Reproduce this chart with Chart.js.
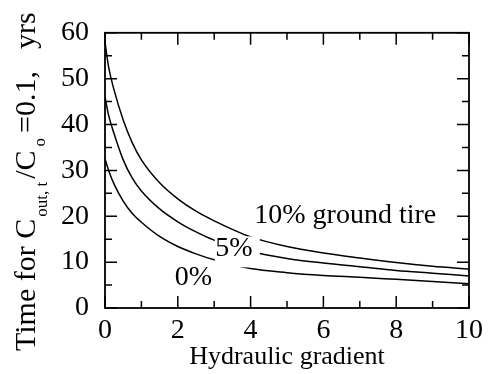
<!doctype html>
<html lang="en">
  <head>
    <meta charset="utf-8">
    <title>Time vs hydraulic gradient</title>
    <script src="https://cdn.jsdelivr.net/npm/chart.js@4.4.0/dist/chart.umd.min.js"></script>
    <style>
      body { margin: 0; background: #fff; }
      #wrap { width: 489px; height: 374px; }
    </style>
  </head>

  <body>
    <div id="wrap">
      <canvas id="chart" width="489" height="374"></canvas>
    </div>
  </body>

  <script>
    // hydraulic gradient
    const xs = [0, 0.1, 0.25, 0.5, 0.75, 1, 1.5, 2, 2.5, 3, 4, 5, 6, 7, 8, 9, 10];
    // time (yrs) for C_out,t / C_o = 0.1
    const tire10 = [58, 52.5, 47.5, 41, 36, 32.3, 27.3, 23.8, 21.1, 19, 15.5, 13.4, 12.0, 10.9, 9.9, 9.1, 8.5];
    const tire5 = [46, 42, 38, 32.3, 28.3, 25.5, 21.6, 18.8, 16.6, 14.8, 12.3, 10.8, 9.8, 9.0, 8.2, 7.6, 7.0];
    const tire0 = [32.5, 30, 27, 23.3, 20.6, 18.7, 15.6, 13.4, 11.8, 10.5, 8.6, 7.7, 7.1, 6.7, 6.25, 5.8, 5.3];
    const seriesNames = ['10% ground tire', '5%', '0%'];

    const xTicks = [0, 2, 4, 6, 8, 10];
    const yTicks = [0, 10, 20, 30, 40, 50, 60];

    const serif = "'Liberation Serif', 'DejaVu Serif', serif";

    function toPoints(ys) {
      return xs.map((x, i) => ({ x: x, y: ys[i] }));
    }

    function line(label, ys) {
      return {
        label: label,
        data: toPoints(ys),
        borderColor: '#000',
        borderWidth: 1.5,
        pointRadius: 0,
        fill: false,
        cubicInterpolationMode: 'monotone'
      };
    }

    // curve labels, y-axis title with subscripts, inner tick frame
    const decorations = {
      id: 'decorations',
      afterDatasetsDraw(chart) {
        const c = chart.ctx;
        const sx = chart.scales.x, sy = chart.scales.y;
        c.save();
        c.textAlign = 'center';
        c.textBaseline = 'middle';
        c.font = '28px ' + serif;

        // "5%" sits on a white patch that breaks the curves
        let px = sx.getPixelForValue(3.54), py = sy.getPixelForValue(13.0);
        c.fillStyle = '#fff';
        c.fillRect(px - 19, py - 12, 45, 31);
        c.fillStyle = '#000';
        c.fillText(seriesNames[1], px, py);

        px = sx.getPixelForValue(6.6); py = sy.getPixelForValue(20.1);
        c.fillText(seriesNames[0], px, py);

        px = sx.getPixelForValue(2.43); py = sy.getPixelForValue(6.6);
        c.fillText(seriesNames[2], px, py);
        c.restore();
      },
      afterDraw(chart) {
        const c = chart.ctx;
        const a = chart.chartArea;
        const sx = chart.scales.x, sy = chart.scales.y;
        c.save();
        c.strokeStyle = '#000';
        c.lineWidth = 1.8;
        c.strokeRect(a.left, a.top, a.right - a.left, a.bottom - a.top);

        c.lineWidth = 1.5;
        c.beginPath();
        for (let v = 0; v <= 10; v++) {
          const len = v % 2 === 0 ? 12 : 7;
          const p = sx.getPixelForValue(v);
          c.moveTo(p, a.bottom); c.lineTo(p, a.bottom - len);
          c.moveTo(p, a.top); c.lineTo(p, a.top + len);
        }
        for (let v = 0; v <= 60; v += 5) {
          const len = v % 10 === 0 ? 12 : 7;
          const p = sy.getPixelForValue(v);
          c.moveTo(a.left, p); c.lineTo(a.left + len, p);
          c.moveTo(a.right, p); c.lineTo(a.right - len, p);
        }
        c.stroke();

        // y axis title, rotated, with subscripts
        c.translate(35, 351);
        c.rotate(-Math.PI / 2);
        c.textAlign = 'left';
        c.textBaseline = 'alphabetic';
        c.fillStyle = '#000';
        const big = '30px ' + serif, small = '17px ' + serif;
        const parts = [
          ['Time for C', big, 0, 2],
          ['out, t', small, 12, 3],
          ['/C', big, 0, 4],
          ['o', small, 10, 5],
          ['=0.1,', big, 0, 22],
          ['yrs', big, 0, 0]
        ];
        let x = 0;
        parts.forEach(p => {
          c.font = p[1];
          c.fillText(p[0], x, p[2]);
          x += c.measureText(p[0]).width + p[3];
        });
        c.restore();
      }
    };

    var ctx = document.getElementById('chart').getContext('2d');
    var chart = new Chart(ctx, {
      type: 'line',
      data: {
        datasets: [line(seriesNames[0], tire10), line(seriesNames[1], tire5), line(seriesNames[2], tire0)]
      },
      options: {
        responsive: false,
        animation: false,
        devicePixelRatio: 1,
        layout: { padding: { left: 0, right: 14, top: 27, bottom: 0 } },
        plugins: { legend: { display: false }, tooltip: { enabled: false } },
        scales: {
          x: {
            type: 'linear',
            min: 0,
            max: 10,
            afterBuildTicks: (s) => { s.ticks = xTicks.map(v => ({ value: v })); },
            afterFit: (s) => { s.height = 66; },
            grid: { display: false, drawTicks: false },
            border: { display: false },
            ticks: { color: '#000', padding: 6, maxRotation: 0, font: { family: serif, size: 28 } },
            title: {
              display: true,
              text: 'Hydraulic gradient',
              color: '#000',
              font: { family: serif, size: 26 },
              padding: { top: 0, bottom: 1 }
            }
          },
          y: {
            min: 0,
            max: 60,
            afterBuildTicks: (s) => { s.ticks = yTicks.map(v => ({ value: v })); },
            afterFit: (s) => { s.width = 105; },
            grid: { display: false, drawTicks: false },
            border: { display: false },
            ticks: { color: '#000', padding: 16, font: { family: serif, size: 28 } }
          }
        }
      },
      plugins: [decorations]
    });
  </script>
</html>
